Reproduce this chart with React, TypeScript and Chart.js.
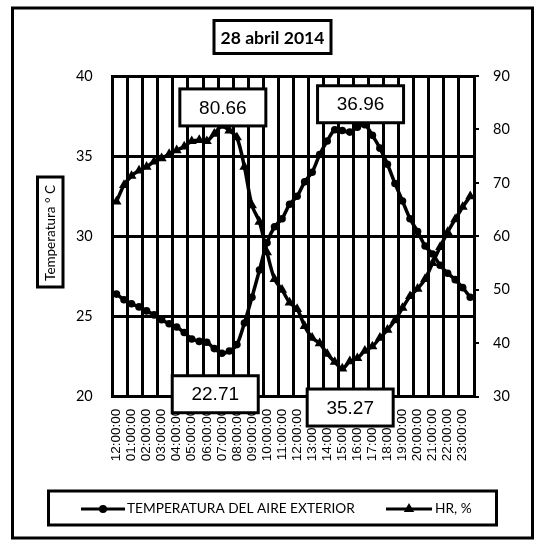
import { useEffect, useRef } from 'react';
import { Chart, registerables } from 'chart.js';

Chart.register(...registerables);

// half-hour categories of the day
const categories = [
  '12:00:00', '12:30:00', '01:00:00', '01:30:00', '02:00:00', '02:30:00', '03:00:00', '03:30:00',
  '04:00:00', '04:30:00', '05:00:00', '05:30:00', '06:00:00', '06:30:00', '07:00:00', '07:30:00',
  '08:00:00', '08:30:00', '09:00:00', '09:30:00', '10:00:00', '10:30:00', '11:00:00', '11:30:00',
  '12:00:00', '12:30:00', '13:00:00', '13:30:00', '14:00:00', '14:30:00', '15:00:00', '15:30:00',
  '16:00:00', '16:30:00', '17:00:00', '17:30:00', '18:00:00', '18:30:00', '19:00:00', '19:30:00',
  '20:00:00', '20:30:00', '21:00:00', '21:30:00', '22:00:00', '22:30:00', '23:00:00', '23:30:00',
];

// tick labels shown (one per hour)
const tickLabels = [
  '12:00:00', '01:00:00', '02:00:00', '03:00:00', '04:00:00', '05:00:00', '06:00:00', '07:00:00',
  '08:00:00', '09:00:00', '10:00:00', '11:00:00', '12:00:00', '13:00:00', '14:00:00', '15:00:00',
  '16:00:00', '17:00:00', '18:00:00', '19:00:00', '20:00:00', '21:00:00', '22:00:00', '23:00:00',
];

const temperatura = [
  26.4, 26.05, 25.8, 25.6, 25.35, 25.1, 24.8, 24.55,
  24.35, 24.0, 23.6, 23.45, 23.4, 23.0, 22.71, 22.85,
  23.25, 24.6, 26.2, 27.9, 29.6, 30.6, 31.1, 32.0,
  32.5, 33.4, 34.0, 35.1, 35.95, 36.65, 36.6, 36.5,
  36.8, 36.96, 36.3, 35.5, 34.5, 33.3, 32.2, 31.1,
  30.3, 29.4, 28.9, 28.2, 27.7, 27.3, 26.8, 26.2,
];

const humedad = [
  66.5, 69.6, 71.3, 72.3, 73.0, 74.0, 74.6, 75.4,
  76.1, 76.8, 77.8, 78.0, 77.8, 79.2, 80.66, 79.8,
  78.5, 73.0, 65.8, 62.7, 57.0, 52.0, 50.0, 47.6,
  46.4, 43.2, 41.0, 40.0, 38.0, 36.5, 35.27, 36.6,
  37.2, 38.6, 39.4, 41.0, 42.5, 44.3, 46.6, 48.8,
  50.2, 52.0, 55.0, 58.0, 60.8, 63.2, 65.5, 67.5,
];

const titleText = '28 abril 2014';
const yTitleText = 'Temperatura ° C';
const legendTemp = 'TEMPERATURA DEL AIRE EXTERIOR';
const legendHr = 'HR, %';

// value callouts: dataset index, point index, text
const callouts = [
  { ds: 1, idx: 14, text: '80.66', dx: 1, dy: -18.5 },
  { ds: 0, idx: 33, text: '36.96', dx: -4.3, dy: -20.5 },
  { ds: 0, idx: 14, text: '22.71', dx: -6.6, dy: 41 },
  { ds: 1, idx: 30, text: '35.27', dx: 7.9, dy: 39 },
];

const W = 549;
const H = 546;

function fitSize(ctx: CanvasRenderingContext2D, text: string, weight: string, family: string, target: number) {
  ctx.font = `${weight} 100px ${family}`;
  const w = ctx.measureText(text).width;
  return (100 * target) / w;
}

function triangle(ctx: CanvasRenderingContext2D, x: number, y: number, r: number) {
  ctx.beginPath();
  ctx.moveTo(x, y - r);
  ctx.lineTo(x + r * 0.866, y + r * 0.5);
  ctx.lineTo(x - r * 0.866, y + r * 0.5);
  ctx.closePath();
  ctx.fill();
}

const decorPlugin = {
  id: 'decor',
  afterDraw(chart: any) {
    const ctx: CanvasRenderingContext2D = chart.ctx;
    ctx.save();
    ctx.strokeStyle = '#000';
    ctx.fillStyle = '#000';
    ctx.lineWidth = 3;

    // outer frame
    ctx.strokeRect(12.5, 8, 520, 530);

    // title box
    ctx.fillStyle = '#fff';
    ctx.fillRect(214, 20.5, 117, 33);
    ctx.strokeRect(214, 20.5, 117, 33);
    ctx.fillStyle = '#000';
    const ts = fitSize(ctx, titleText, 'bold', 'Lato', 104);
    ctx.font = `bold ${ts}px Lato`;
    ctx.textAlign = 'center';
    ctx.textBaseline = 'middle';
    ctx.fillText(titleText, 272.5, 38);

    // y-axis title box
    ctx.fillStyle = '#fff';
    ctx.fillRect(37.5, 177, 25.5, 110);
    ctx.strokeRect(37.5, 177, 25.5, 110);
    ctx.fillStyle = '#000';
    const ys = Math.min(14.5, fitSize(ctx, yTitleText, 'normal', 'Lato', 96));
    ctx.save();
    ctx.translate(51, 233);
    ctx.rotate(-Math.PI / 2);
    ctx.font = `normal ${ys}px Lato`;
    ctx.fillText(yTitleText, 0, 0);
    ctx.restore();

    // value callouts
    callouts.forEach((c) => {
      const pt = chart.getDatasetMeta(c.ds).data[c.idx];
      if (!pt) return;
      const cx = pt.x + c.dx;
      const cy = pt.y + c.dy;
      const bw = 86;
      const bh = 37;
      ctx.fillStyle = '#fff';
      ctx.fillRect(cx - bw / 2, cy - bh / 2, bw, bh);
      ctx.lineWidth = 3;
      ctx.strokeRect(cx - bw / 2, cy - bh / 2, bw, bh);
      ctx.fillStyle = '#000';
      ctx.font = 'normal 19px "Liberation Sans", Arial, sans-serif';
      ctx.textAlign = 'center';
      ctx.textBaseline = 'middle';
      ctx.fillText(c.text, cx, cy + 1);
    });

    // legend
    ctx.fillStyle = '#fff';
    ctx.fillRect(48.5, 491, 448, 34);
    ctx.strokeRect(48.5, 491, 448, 34);
    ctx.fillStyle = '#000';
    const ly = 509;
    ctx.lineWidth = 3;
    ctx.beginPath();
    ctx.moveTo(81, ly);
    ctx.lineTo(125, ly);
    ctx.stroke();
    ctx.beginPath();
    ctx.arc(103, ly, 4, 0, Math.PI * 2);
    ctx.fill();
    const l1 = fitSize(ctx, legendTemp, 'normal', 'Lato', 228);
    ctx.font = `normal ${l1}px Lato`;
    ctx.textAlign = 'left';
    ctx.textBaseline = 'middle';
    ctx.fillText(legendTemp, 127, ly);

    ctx.beginPath();
    ctx.moveTo(386, ly);
    ctx.lineTo(432, ly);
    ctx.stroke();
    triangle(ctx, 409, ly, 6);
    ctx.font = `normal ${l1}px Lato`;
    ctx.fillText(legendHr, 435, ly);

    ctx.restore();
  },
};

export default function App() {
  const ref = useRef<HTMLCanvasElement | null>(null);

  useEffect(() => {
    document.body.style.margin = '0';
    const canvas = ref.current;
    if (!canvas) return;
    const chart = new Chart(canvas, {
      type: 'line',
      data: {
        labels: categories,
        datasets: [
          {
            label: legendTemp,
            data: temperatura,
            yAxisID: 'y',
            borderColor: '#000',
            backgroundColor: '#000',
            borderWidth: 3.5,
            pointStyle: 'circle',
            pointRadius: 3.8,
            pointBackgroundColor: '#000',
            pointBorderWidth: 0,
            tension: 0.3,
            order: 1,
          },
          {
            label: legendHr,
            data: humedad,
            yAxisID: 'y1',
            borderColor: '#000',
            backgroundColor: '#000',
            borderWidth: 3.5,
            pointStyle: 'triangle',
            pointRadius: 5.8,
            pointBackgroundColor: '#000',
            pointBorderWidth: 0,
            tension: 0.3,
            order: 0,
          },
        ],
      },
      options: {
        responsive: false,
        animation: false,
        events: [],
        layout: { padding: { top: 76, left: 0, right: 0, bottom: 0 } },
        plugins: {
          legend: { display: false },
          title: { display: false },
          tooltip: { enabled: false },
        },
        scales: {
          x: {
            type: 'category',
            offset: true,
            grid: {
              offset: true,
              drawTicks: false,
              lineWidth: 3,
              color: (c: any) =>
                c.index === undefined || c.index % 2 === 0 ? '#000' : 'rgba(0,0,0,0)',
            },
            border: { display: true, color: '#000', width: 3 },
            ticks: {
              autoSkip: false,
              maxRotation: 90,
              minRotation: 90,
              padding: 12,
              color: '#000',
              font: { family: '"Liberation Sans", Arial, sans-serif', size: 13.5 },
              callback: (_v: any, i: number) => (i % 2 === 0 ? tickLabels[i / 2] : ''),
            },
            afterFit: (s: any) => {
              s.height = H - 396.7;
            },
          },
          y: {
            position: 'left',
            min: 20,
            max: 40,
            ticks: {
              stepSize: 5,
              padding: 20,
              color: '#000',
              font: { family: 'Lato', size: 14.5 },
            },
            grid: { color: '#000', lineWidth: 3, drawTicks: false },
            border: { display: true, color: '#000', width: 3 },
            afterFit: (s: any) => {
              s.width = 112.7;
            },
          },
          y1: {
            position: 'right',
            min: 30,
            max: 90,
            ticks: {
              stepSize: 10,
              padding: 14,
              color: '#000',
              font: { family: 'Lato', size: 14.5 },
            },
            grid: {
              drawOnChartArea: false,
              drawTicks: true,
              tickLength: 5,
              color: '#000',
              lineWidth: 2,
            },
            border: { display: true, color: '#000', width: 3 },
            afterFit: (s: any) => {
              s.width = W - 474;
            },
          },
        },
      },
      plugins: [decorPlugin],
    });
    return () => chart.destroy();
  }, []);

  return (
    <div style={{ width: W, height: H, background: '#fff' }}>
      <canvas ref={ref} width={W} height={H} style={{ width: W, height: H, display: 'block' }} />
    </div>
  );
}
